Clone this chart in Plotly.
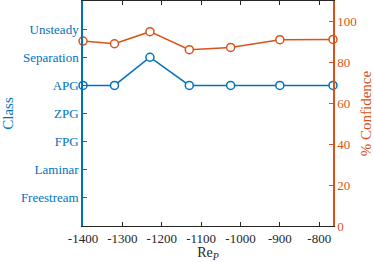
import plotly.graph_objects as go

re_p = [-1400, -1320, -1230, -1130, -1025, -900, -765]
class_idx = [5, 5, 6, 5, 5, 5, 5]
confidence = [90.4, 89.1, 95.0, 86.2, 87.3, 91.1, 91.2]
class_labels = ["Freestream", "Laminar", "FPG", "ZPG", "APG", "Separation", "Unsteady"]
class_vals = [1, 2, 3, 4, 5, 6, 7]
x_ticks = [-1400, -1300, -1200, -1100, -1000, -900, -800]
conf_ticks = [0, 20, 40, 60, 80, 100]

BLUE = "#0072BD"
ORANGE = "#D95319"
DARK = "#262626"
FONT = "Liberation Serif"

fig = go.Figure()
fig.add_trace(go.Scatter(
    x=re_p, y=class_idx, mode="lines+markers", yaxis="y",
    line=dict(color=BLUE, width=1.5),
    marker=dict(symbol="circle", size=8, color="white", line=dict(color=BLUE, width=1.5)),
    cliponaxis=False, showlegend=False))
fig.add_trace(go.Scatter(
    x=re_p, y=confidence, mode="lines+markers", yaxis="y2",
    line=dict(color=ORANGE, width=1.5),
    marker=dict(symbol="circle", size=8, color="white", line=dict(color=ORANGE, width=1.5)),
    cliponaxis=False, showlegend=False))

fig.update_layout(
    width=374, height=262,
    margin=dict(l=83, r=41, t=1, b=36),
    paper_bgcolor="white", plot_bgcolor="white",
    font=dict(family=FONT, size=13, color=DARK),
    xaxis=dict(
        range=[-1400, -765], tickvals=x_ticks, ticktext=[str(v) for v in x_ticks],
        ticks="inside", ticklen=4, tickcolor=DARK, showline=True, linecolor=DARK,
        linewidth=1, mirror="ticks", showgrid=False, zeroline=False, automargin=False,
        tickfont=dict(family=FONT, size=13, color=DARK),
        title=dict(text="Re<sub><i>P</i></sub>", font=dict(family=FONT, size=14, color=DARK)),
    ),
    yaxis=dict(
        range=[0, 8], tickvals=class_vals, ticktext=class_labels,
        ticks="inside", ticklen=4, tickcolor=BLUE, showline=True, linecolor=BLUE, linewidth=1.5,
        showgrid=False, zeroline=False, automargin=False,
        tickfont=dict(family=FONT, size=13, color=BLUE),
        title=dict(text="Class", font=dict(family=FONT, size=15, color=BLUE)),
    ),
    yaxis2=dict(
        range=[0, 110], tickvals=conf_ticks, overlaying="y", side="right",
        ticks="inside", ticklen=4, tickcolor=ORANGE, showline=True, linecolor=ORANGE, linewidth=1.5,
        showgrid=False, zeroline=False, automargin=False,
        tickfont=dict(family=FONT, size=13, color=ORANGE),
        title=dict(text="% Confidence", font=dict(family=FONT, size=15, color=ORANGE)),
    ),
)

fig.write_html("out.html", config={"displayModeBar": False},
               post_script="document.body.style.margin='0px';")
